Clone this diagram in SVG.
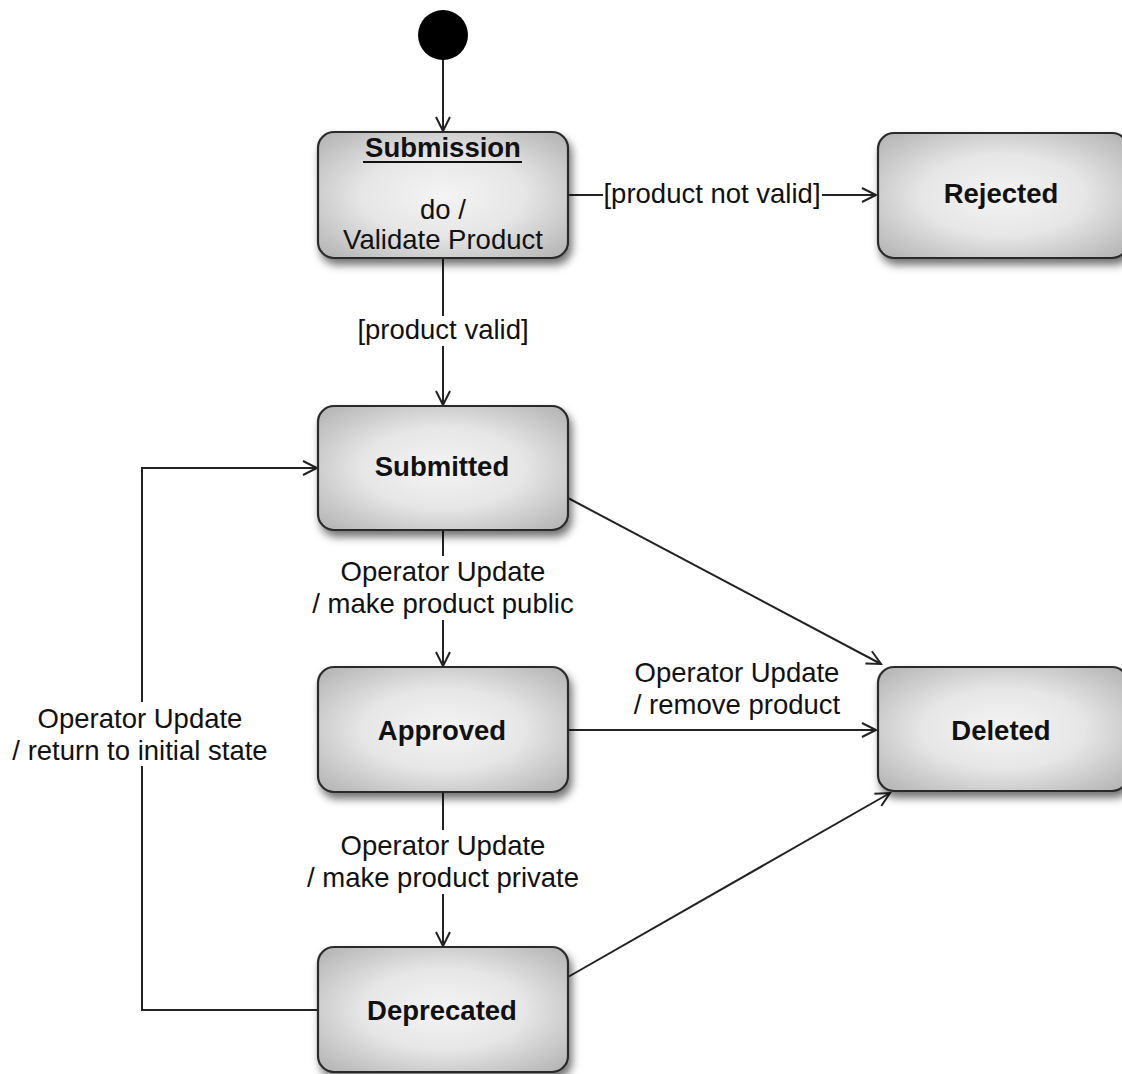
<svg xmlns="http://www.w3.org/2000/svg" width="1122" height="1074" viewBox="0 0 1122 1074">
<defs>
<radialGradient id="g" cx="50%" cy="50%" r="65%">
<stop offset="0" stop-color="#f4f4f4"/>
<stop offset="0.5" stop-color="#e6e6e6"/>
<stop offset="1" stop-color="#b8b8b8"/>
</radialGradient>
<filter id="sh" x="-10%" y="-10%" width="130%" height="140%">
<feDropShadow dx="3" dy="6" stdDeviation="4" flood-color="#000" flood-opacity="0.55"/>
</filter>
<marker id="arr" markerWidth="20" markerHeight="20" refX="15" refY="10" orient="auto" markerUnits="userSpaceOnUse">
<path d="M1,3 L15,10 L1,17" fill="none" stroke="#222" stroke-width="2"/>
</marker>
</defs>
<style>
.box{fill:url(#g);stroke:#2a2a2a;stroke-width:2.2;filter:url(#sh)}
.nl{font-family:"Liberation Sans",Arial,sans-serif;font-weight:bold;font-size:27.5px;fill:#111;text-anchor:middle}
.tl{font-family:"Liberation Sans",Arial,sans-serif;font-size:27.5px;fill:#111;text-anchor:middle}
.c{fill:none;stroke:#222;stroke-width:2}
.bg{fill:#fff}
</style>
<rect width="1122" height="1074" fill="#fff"/>

<g id="connectors">
<line class="c" x1="443" y1="58" x2="443" y2="131" marker-end="url(#arr)"/>
<line class="c" x1="568" y1="195" x2="876" y2="195" marker-end="url(#arr)"/>
<line class="c" x1="443" y1="258" x2="443" y2="405" marker-end="url(#arr)"/>
<line class="c" x1="443" y1="530" x2="443" y2="666" marker-end="url(#arr)"/>
<line class="c" x1="443" y1="792" x2="443" y2="946" marker-end="url(#arr)"/>
<line class="c" x1="568" y1="730" x2="876" y2="730" marker-end="url(#arr)"/>
<line class="c" x1="568" y1="498" x2="881" y2="664" marker-end="url(#arr)"/>
<line class="c" x1="568" y1="977" x2="890" y2="793" marker-end="url(#arr)"/>
<polyline class="c" points="318,1010 142,1010 142,468 317,468" marker-end="url(#arr)"/>

<rect class="bg" x="603" y="178" width="219" height="34"/>
<text class="tl" x="712" y="203">[product not valid]</text>
<rect class="bg" x="355" y="316" width="176" height="30"/>
<text class="tl" x="443" y="339">[product valid]</text>
<rect class="bg" x="310" y="556" width="266" height="64"/>
<text class="tl" x="443" y="581">Operator Update</text>
<text class="tl" x="443" y="613">/ make product public</text>
<text class="tl" x="737" y="682">Operator Update</text>
<text class="tl" x="737" y="714">/ remove product</text>
<rect class="bg" x="306" y="830" width="274" height="64"/>
<text class="tl" x="443" y="855">Operator Update</text>
<text class="tl" x="443" y="887">/ make product private</text>
<rect class="bg" x="8" y="702" width="264" height="64"/>
<text class="tl" x="140" y="728">Operator Update</text>
<text class="tl" x="140" y="760">/ return to initial state</text>
</g>

<g id="initial">
<circle cx="443" cy="35" r="25" fill="#000"/>
</g>

<g id="submission">
<rect class="box" x="318" y="132" width="250" height="126" rx="16"/>
<text class="nl" x="443" y="157">Submission</text>
<line x1="363" y1="162" x2="522" y2="162" stroke="#111" stroke-width="2"/>
<text class="tl" x="443" y="219">do /</text>
<text class="tl" x="443" y="249">Validate Product</text>
</g>

<g id="rejected">
<rect class="box" x="878" y="133" width="250" height="125" rx="16"/>
<text class="nl" x="1001" y="203">Rejected</text>
</g>

<g id="submitted">
<rect class="box" x="318" y="406" width="250" height="124" rx="16"/>
<text class="nl" x="442" y="476">Submitted</text>
</g>

<g id="approved">
<rect class="box" x="318" y="667" width="250" height="125" rx="16"/>
<text class="nl" x="442" y="740">Approved</text>
</g>

<g id="deleted">
<rect class="box" x="878" y="667" width="250" height="124" rx="16"/>
<text class="nl" x="1001" y="740">Deleted</text>
</g>

<g id="deprecated">
<rect class="box" x="318" y="947" width="250" height="125" rx="16"/>
<text class="nl" x="442" y="1020">Deprecated</text>
</g>
</svg>
